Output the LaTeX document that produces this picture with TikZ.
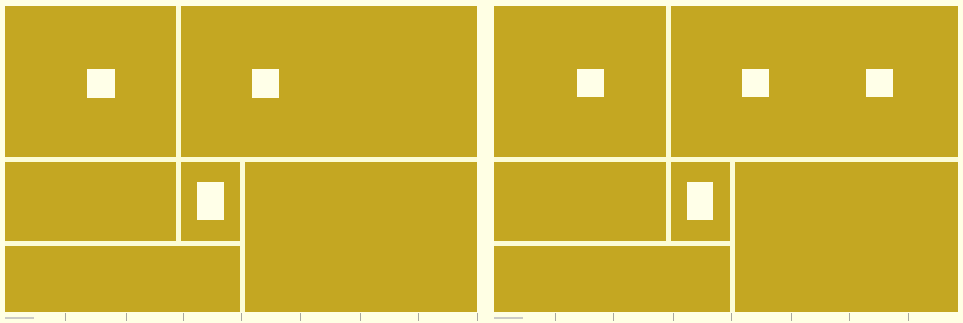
\documentclass[tikz,border=0pt]{standalone}
\definecolor{cream}{HTML}{FFFFE4}
\definecolor{gold}{HTML}{C4A722}
\definecolor{sep}{HTML}{FCFCD6}
\definecolor{hole}{HTML}{FFFFE8}
\definecolor{tick}{HTML}{A8A8A0}
\tikzset{
  panel/.style={fill=gold},
  wall/.style={draw=sep,line width=5pt},
  holebox/.style={fill=hole},
  tickmark/.style={draw=tick,line width=0.8pt}
}
\begin{document}
\begin{tikzpicture}[x=1pt,y=-1pt]
\fill[cream] (0,0) rectangle (963,323);
\useasboundingbox (0,0) rectangle (963,323);
% left panel
\fill[panel] (5,6) rectangle (477,312);
\draw[wall] (178,6) -- (178,243);
\draw[wall] (5,160) -- (477,160);
\draw[wall] (242,160) -- (242,312);
\draw[wall] (5,243) -- (242,243);
\fill[holebox] (87,69) rectangle (115,98);
\fill[holebox] (252,69) rectangle (279,98);
\fill[holebox] (197,182) rectangle (224,220);
% right panel
\fill[panel] (494,6) rectangle (958,312);
\draw[wall] (668,6) -- (668,243);
\draw[wall] (494,160) -- (958,160);
\draw[wall] (732,160) -- (732,312);
\draw[wall] (494,243) -- (732,243);
\fill[holebox] (577,69) rectangle (604,97);
\fill[holebox] (742,69) rectangle (769,97);
\fill[holebox] (866,69) rectangle (893,97);
\fill[holebox] (687,182) rectangle (713,220);
% ticks
\foreach \x in {65,126,183,241,300,360,418,477,555,613,673,731,791,849,908}
  \draw[tickmark] (\x,313) -- (\x,321);
\draw[tick!60,line width=2pt] (5,318) -- (34,318);
\draw[tick!60,line width=2pt] (494,318) -- (523,318);
\end{tikzpicture}
\end{document}
